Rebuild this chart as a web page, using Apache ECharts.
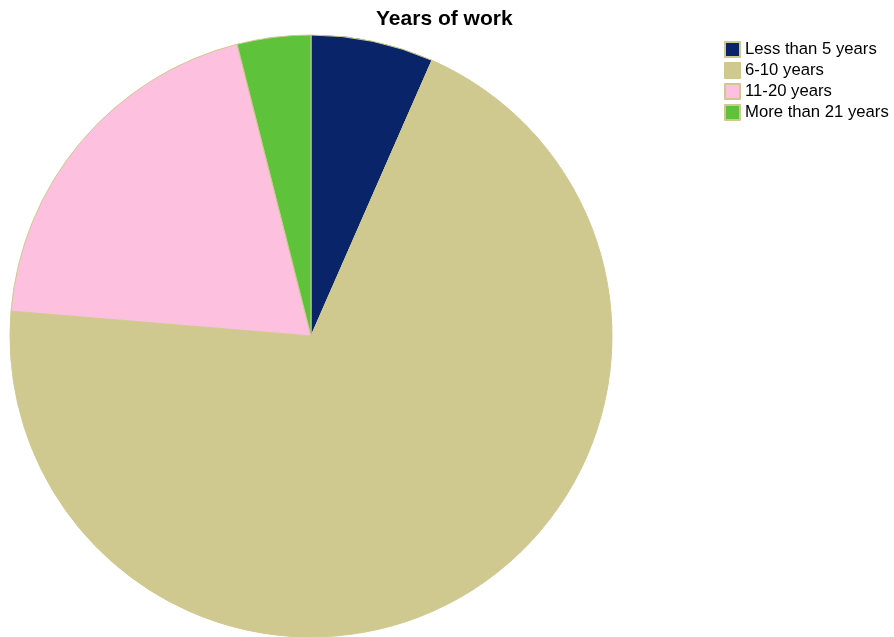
<!DOCTYPE html>
<html>
<head>
<meta charset="utf-8">
<script src="https://cdn.jsdelivr.net/npm/echarts@6/dist/echarts.min.js"></script>
<style>
  html, body { margin: 0; padding: 0; background: #ffffff; }
  #chart { width: 894px; height: 637px; }
</style>
</head>
<body>
<div id="chart"></div>
<script>
// Respondents by years of work
const categories = ['Less than 5 years', '6-10 years', '11-20 years', 'More than 21 years'];
const counts = [5, 53, 15, 3];
const colors = ['#0a246a', '#cfc98f', '#fdc0df', '#5ec33a'];

const chart = echarts.init(document.getElementById('chart'), null, { renderer: 'canvas' });

chart.setOption({
  animation: false,
  title: {
    text: 'Years of work',
    left: 376,
    top: 9,
    padding: 0,
    textStyle: {
      fontFamily: 'Liberation Sans, Arial, sans-serif',
      fontSize: 21,
      fontWeight: 'bold',
      color: '#000000'
    }
  },
  legend: {
    orient: 'vertical',
    left: 724,
    top: 41,
    padding: 0,
    icon: 'rect',
    itemWidth: 15,
    itemHeight: 15,
    itemGap: 4,
    textStyle: {
      fontFamily: 'Liberation Sans, Arial, sans-serif',
      fontSize: 16.7,
      lineHeight: 15,
      color: '#000000'
    },
    data: categories
  },
  series: [{
    type: 'pie',
    center: [311, 336],
    radius: 301,
    startAngle: 90,
    clockwise: true,
    label: { show: false },
    labelLine: { show: false },
    emphasis: { disabled: true },
    itemStyle: {
      borderColor: '#cfc98f',
      borderWidth: 1
    },
    data: categories.map((name, i) => ({
      name: name,
      value: counts[i],
      itemStyle: { color: colors[i] }
    }))
  }]
});
</script>
</body>
</html>
